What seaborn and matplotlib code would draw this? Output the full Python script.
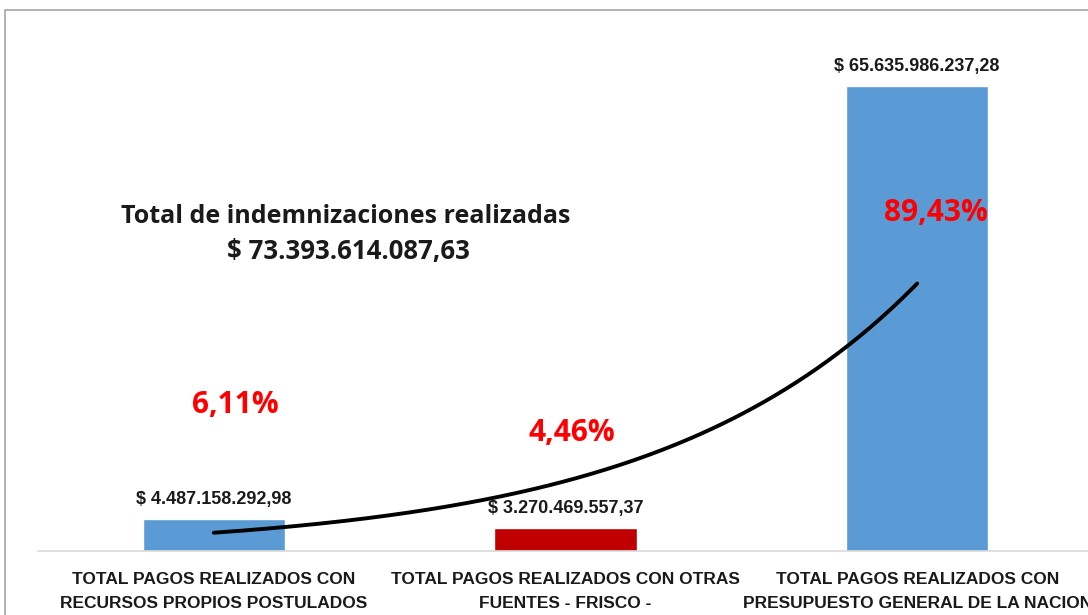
import numpy as np
import pandas as pd
import matplotlib
matplotlib.use("Agg")
import matplotlib.pyplot as plt
import seaborn as sns
from matplotlib.patches import Rectangle

# datos del gráfico
categorias = [
    "TOTAL PAGOS REALIZADOS CON\nRECURSOS PROPIOS POSTULADOS",
    "TOTAL PAGOS REALIZADOS CON OTRAS\nFUENTES - FRISCO -",
    "TOTAL PAGOS REALIZADOS CON\nPRESUPUESTO GENERAL DE LA NACION",
]
valores = [4487158292.98, 3270469557.37, 65635986237.28]
colores = ["#5B9BD5", "#C00000", "#5B9BD5"]


def formato_pesos(v):
    s = f"{v:,.2f}"
    return "$ " + s.replace(",", "X").replace(".", ",").replace("X", ".")


total = sum(valores)
porcentajes = [v / total * 100 for v in valores]
etiquetas_pct = [f"{p:.2f}%".replace(".", ",") for p in porcentajes]

sns.set_style("white")
plt.rcParams["font.family"] = ["Liberation Sans Narrow", "Liberation Sans", "DejaVu Sans"]

df = pd.DataFrame({"categoria": categorias, "valor": valores})

fig = plt.figure(figsize=(10.88, 6.15), dpi=100)
ax = fig.add_axes([38 / 1088, 64 / 615, 1055 / 1088, 541 / 615])

sns.barplot(data=df, x="categoria", y="valor", hue="categoria", palette=colores,
            width=0.405, legend=False, ax=ax, saturation=1)

ax.set_xlim(-0.5, 2.5)
ax.set_ylim(0, 76.4e9)

# etiquetas de valor encima de las barras
for cont, v in zip(ax.containers, valores):
    ax.bar_label(cont, labels=[formato_pesos(v)], padding=8, fontsize=13,
                 fontweight="bold", color="#1a1a1a")

# línea de tendencia exponencial (como en Excel)
x_idx = np.arange(len(valores))
b, a = np.polyfit(x_idx + 1, np.log(valores), 1)
xs = np.linspace(0, len(valores) - 1, 200)
ax.plot(xs, np.exp(a + b * (xs + 1)), color="black", lw=2.8, solid_capstyle="round")

# porcentajes
pos_pct = [(0.187, 0.270), (0.506, 0.218), (0.851, 0.625)]
for (px, py), t in zip(pos_pct, etiquetas_pct):
    ax.text(px, py, t, transform=ax.transAxes, ha="center", va="center",
            fontsize=21.5, fontweight="bold", color="#FF0000", family=["Open Sans", "DejaVu Sans"])

# título
fig.text(346 / 1088, 1 - 217 / 615, "Total de indemnizaciones realizadas", ha="center", va="center",
         fontsize=18, fontweight="bold", color="#1a1a1a", family=["Open Sans", "DejaVu Sans"])
fig.text(348 / 1088, 1 - 252 / 615, formato_pesos(total), ha="center", va="center",
         fontsize=18.5, fontweight="bold", color="#1a1a1a", family=["Open Sans", "DejaVu Sans"])

# ejes
ax.set_xlabel("")
ax.set_ylabel("")
ax.set_yticks([])
ax.tick_params(axis="x", length=0, pad=15)
for lbl in ax.get_xticklabels():
    lbl.set_fontsize(12.5)
    lbl.set_fontweight("bold")
    lbl.set_color("#1a1a1a")
    lbl.set_linespacing(1.75)
for s in ["top", "right", "left"]:
    ax.spines[s].set_visible(False)
ax.spines["bottom"].set_color("#D9D9D9")
ax.spines["bottom"].set_linewidth(1.2)

# marco del gráfico
fig.patches.append(Rectangle((5 / 1088, -0.1), 1.2, (605 / 615) + 0.1, transform=fig.transFigure,
                             fill=False, edgecolor="#A6A6A6", lw=1.2))

fig.savefig("out.png", dpi=100)
